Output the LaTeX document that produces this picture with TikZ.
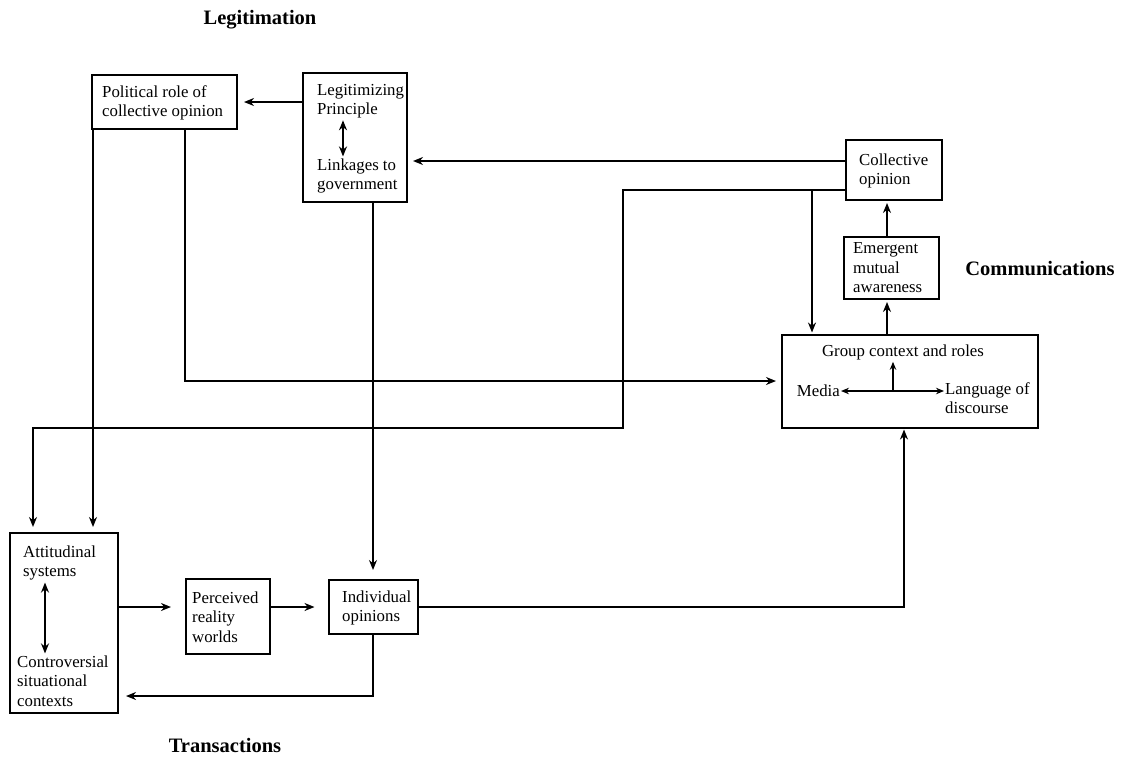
\documentclass[tikz,border=0pt]{standalone}
\usepackage{fontspec}
\setmainfont{Liberation Serif}
\usetikzlibrary{arrows.meta,calc}
\begin{document}
\begin{tikzpicture}[x=1pt,y=-1pt,
  boxnode/.style={draw, line width=2pt, inner sep=0pt, rectangle},
  txt/.style={inner sep=0pt, align=left, font=\fontsize{16.8}{19.5}\selectfont},
  head/.style={inner sep=0pt, font=\fontsize{20.5}{24}\selectfont\bfseries},
  arr/.style={-{Stealth[length=10pt,width=8pt]}, line width=2pt},
  darr/.style={{Stealth[length=10pt,width=8pt]}-{Stealth[length=10pt,width=8pt]}, line width=2pt},
  thinarr/.style={-{Stealth[length=8pt,width=6.5pt]}, line width=1.2pt},
  thindarr/.style={{Stealth[length=8pt,width=6.5pt]}-{Stealth[length=8pt,width=6.5pt]}, line width=1.2pt}]
\useasboundingbox (0,0) rectangle (1136,756);

% headings
\node[head] (hleg) at (260,20) {Legitimation};
\node[head] (hcom) at (1040,269) {Communications};
\node[head] (htra) at (225,745) {Transactions};

% boxes
\node[boxnode, minimum width=145pt, minimum height=54pt] (pol) at (164.5,102) {};
\node[boxnode, minimum width=104pt, minimum height=129pt] (leg) at (355,137.5) {};
\node[boxnode, minimum width=96pt, minimum height=60pt] (col) at (894,170) {};
\node[boxnode, minimum width=95pt, minimum height=62pt] (emg) at (891.5,268) {};
\node[boxnode, minimum width=256pt, minimum height=93pt] (grp) at (910,381) {};
\node[boxnode, minimum width=108pt, minimum height=180pt] (att) at (64,623) {};
\node[boxnode, minimum width=84pt, minimum height=75pt] (per) at (228,616.5) {};
\node[boxnode, minimum width=89pt, minimum height=54pt] (ind) at (373,607) {};

% texts
\node[txt, anchor=west] (poltxt) at (102,103) {Political role of\\collective opinion};
\node[txt, anchor=west] (lp) at (317,101) {Legitimizing\\Principle};
\node[txt, anchor=west] (lk) at (317,176) {Linkages to\\government};
\node[txt, anchor=west] (coltxt) at (859,171) {Collective\\opinion};
\node[txt, anchor=west] (emgtxt) at (853,268) {Emergent\\mutual\\awareness};
\node[txt] (gt) at (903,352) {Group context and roles};
\node[txt, anchor=east] (media) at (840,391) {Media};
\node[txt, anchor=north west] (lang) at (945,382) {Language of\\discourse};
\node[txt, anchor=west] (at1) at (23,563) {Attitudinal\\systems};
\node[txt, anchor=west] (at2) at (17,681) {Controversial\\situational\\contexts};
\node[txt, anchor=west] (pertxt) at (192,617) {Perceived\\reality\\worlds};
\node[txt, anchor=west] (indtxt) at (342,608) {Individual\\opinions};

% internal arrows
\coordinate (xl) at (343,0);
\draw[darr, shorten <=2pt, shorten >=2pt] (lp.south -| xl) -- (lk.north -| xl);
\coordinate (xa) at (45,0);
\draw[darr, shorten <=2pt, shorten >=2pt] (at1.south -| xa) -- (at2.north -| xa);
\draw[thindarr, shorten <=1pt, shorten >=1pt] (media.east) -- (media.east -| lang.west);
\coordinate (u1) at (893,391);
\draw[thinarr, shorten >=2pt] (u1) -- (u1 |- gt.south);

% connectors
\draw[arr, shorten >=6pt] (leg.west |- pol.east) -- (pol.east);
\coordinate (c1) at ([yshift=9pt]col.west);
\draw[arr, shorten >=5pt] (c1) -- (c1 -| leg.east);
\coordinate (c2) at ([yshift=-20pt]col.west);
\coordinate (j1) at (623,190);
\coordinate (j2) at (623,428);
\coordinate (j3) at (33,428);
\draw[arr, shorten >=5pt] (c2) -- (j1) -- (j2) -- (j3) -- (j3 |- att.north);
\coordinate (j4) at (812,190);
\draw[arr, shorten >=1pt] (j4) -- (j4 |- grp.north);
\coordinate (p1) at ([xshift=20.5pt]pol.south);
\draw[arr, shorten >=5pt] (p1) |- (grp.west);
\coordinate (p2) at ([xshift=-71.5pt]pol.south);
\draw[arr, shorten >=5pt] (p2) -- (p2 |- att.north);
\draw[arr, shorten >=9pt] (leg.south -| ind.north) -- (ind.north);
\coordinate (e1) at ([xshift=-4.5pt]emg.north);
\coordinate (e2) at ([xshift=-4.5pt]emg.south);
\draw[arr, shorten >=2pt] (e1) -- (e1 |- col.south);
\draw[arr, shorten >=2pt] (e2 |- grp.north) -- (e2);
\draw[arr, shorten >=14pt] (att.east |- ind.west) -- (per.west |- ind.west);
\draw[arr, shorten >=13pt] (per.east |- ind.west) -- (ind.west);
\coordinate (i1) at ([yshift=-61pt]ind.south);
\draw[arr, shorten >=7pt] (ind.south) -- (i1) -- (i1 -| att.east);
\coordinate (g1) at ([xshift=-6pt]grp.south);
\draw[arr, shorten >=1pt] (ind.east) -| (g1);
\end{tikzpicture}
\end{document}
